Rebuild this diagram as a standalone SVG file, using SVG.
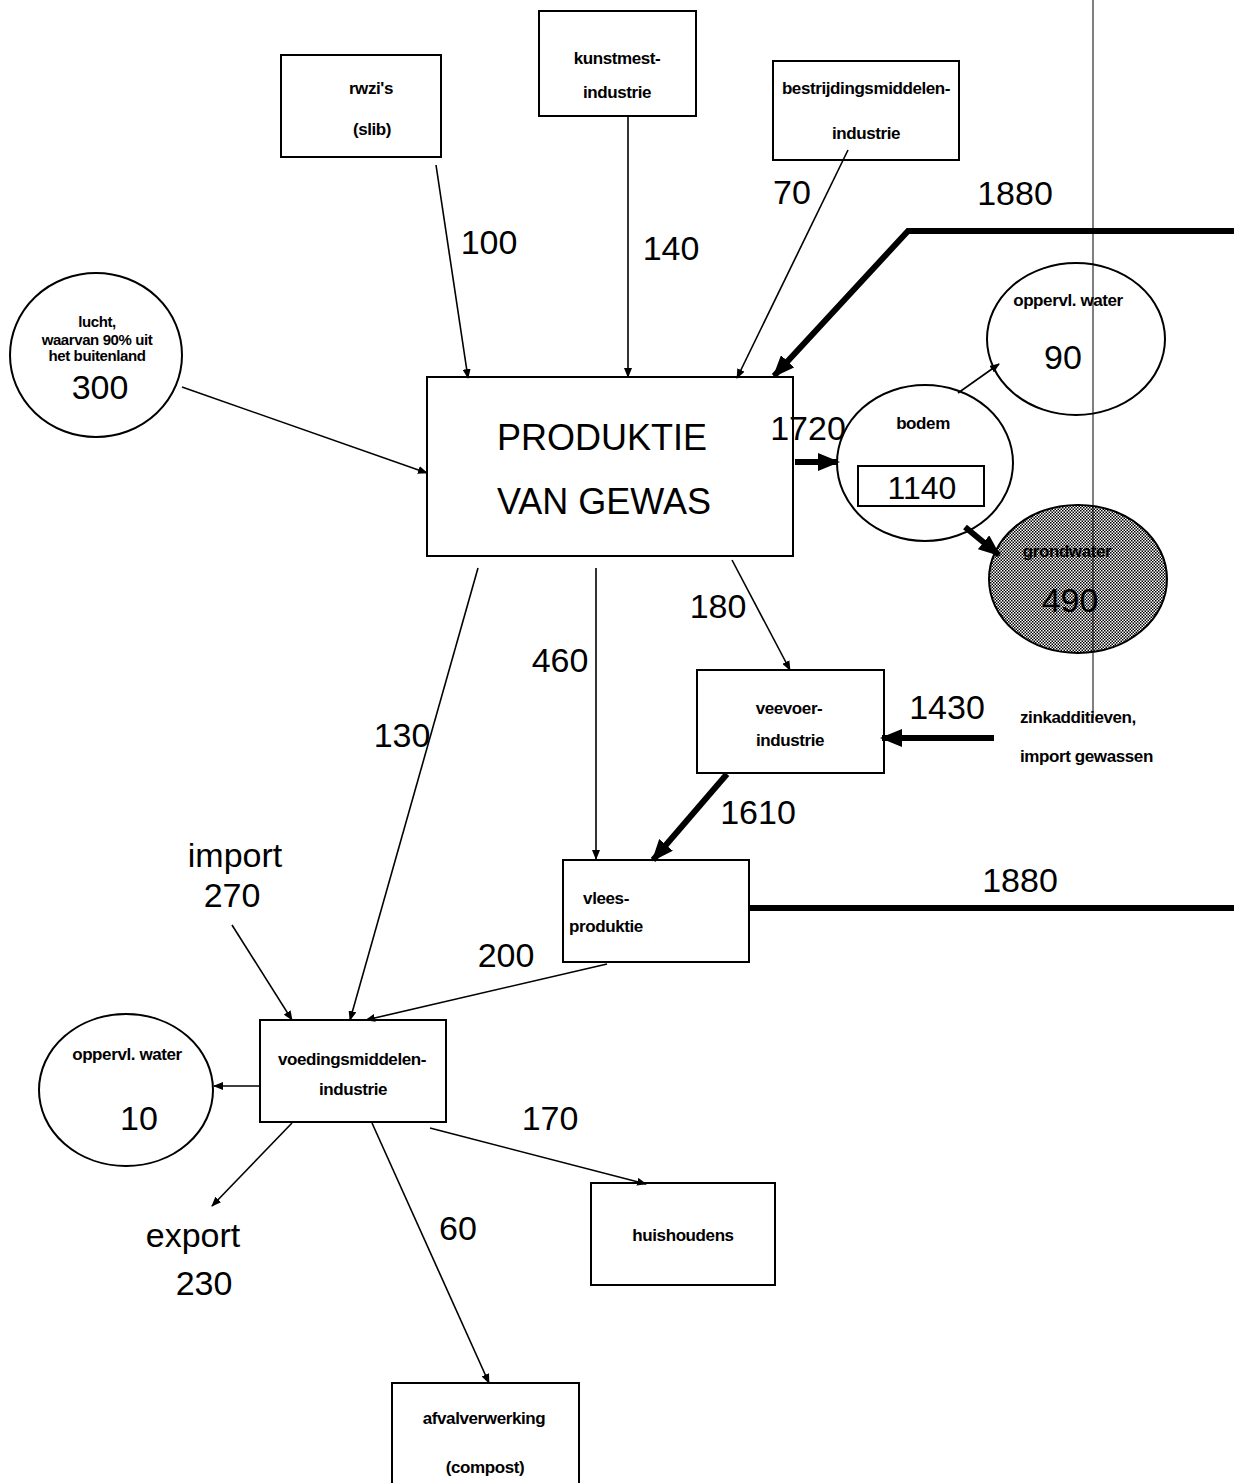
<svg xmlns="http://www.w3.org/2000/svg" width="1234" height="1483" viewBox="0 0 1234 1483">
<style>
.box{fill:#fff;stroke:#000;stroke-width:2}
.ell{fill:#fff;stroke:#000;stroke-width:2}
.sm{font-family:"Liberation Sans",Arial,sans-serif;font-size:17px;font-weight:bold;text-anchor:middle;letter-spacing:-0.4px}
.lg{font-family:"Liberation Sans",Arial,sans-serif;font-size:34px;text-anchor:middle}
.xl{font-family:"Liberation Sans",Arial,sans-serif;font-size:36px;text-anchor:middle}
.thin{fill:none;stroke:#000;stroke-width:1.6}
.thick{fill:none;stroke:#000;stroke-width:6}
</style>
<defs>
<marker id="a" markerWidth="10" markerHeight="8" refX="9" refY="4" orient="auto" markerUnits="userSpaceOnUse">
<path d="M0,0 L10,4 L0,8 Z" fill="#000"/>
</marker>
<marker id="A" markerWidth="22" markerHeight="18" refX="20" refY="9" orient="auto" markerUnits="userSpaceOnUse">
<path d="M0,0 L22,9 L0,18 Z" fill="#000"/>
</marker>
<pattern id="dots" width="3" height="3" patternUnits="userSpaceOnUse">
<rect width="3" height="3" fill="#fff"/>
<rect x="0" y="0" width="1.5" height="1.5" fill="#000"/>
<rect x="1.5" y="1.5" width="1.5" height="1.5" fill="#000"/>
</pattern>
</defs>

<g id="rwzi">
<rect class="box" x="281" y="55" width="160" height="102"/>
<text class="sm" x="371" y="94">rwzi's</text>
<text class="sm" x="372" y="135">(slib)</text>
</g>
<g id="kunstmest">
<rect class="box" x="539" y="11" width="157" height="105"/>
<text class="sm" x="617" y="64">kunstmest-</text>
<text class="sm" x="617" y="98">industrie</text>
</g>
<g id="bestrijdingsmiddelen">
<rect class="box" x="773" y="61" width="186" height="99"/>
<text class="sm" x="866" y="94">bestrijdingsmiddelen-</text>
<text class="sm" x="866" y="139">industrie</text>
</g>
<g id="lucht">
<ellipse class="ell" cx="96" cy="355" rx="86" ry="82"/>
<text class="sm" x="97" y="327" style="font-size:15px">lucht,</text>
<text class="sm" x="97" y="345" style="font-size:15px">waarvan 90% uit</text>
<text class="sm" x="97" y="361" style="font-size:15px">het buitenland</text>
<text class="lg" x="100" y="399">300</text>
</g>
<g id="produktie">
<rect class="box" x="427" y="377" width="366" height="179"/>
<text class="xl" x="602" y="450">PRODUKTIE</text>
<text class="xl" x="604" y="514">VAN GEWAS</text>
</g>
<g id="bodem">
<ellipse class="ell" cx="925" cy="463" rx="88" ry="78"/>
<text class="sm" x="923" y="429">bodem</text>
<rect class="box" x="858" y="466" width="126" height="40"/>
<text class="lg" x="922" y="499" style="font-size:32px">1140</text>
</g>
<g id="oppervl-water-1">
<ellipse class="ell" cx="1076" cy="339" rx="89" ry="76"/>
<text class="sm" x="1068" y="306">oppervl. water</text>
<text class="lg" x="1063" y="369">90</text>
</g>
<g id="grondwater">
<ellipse cx="1078" cy="579" rx="89" ry="74" fill="url(#dots)" stroke="#000" stroke-width="2"/>
<text class="sm" x="1067" y="557">grondwater</text>
<text class="lg" x="1070" y="612">490</text>
</g>
<g id="veevoer">
<rect class="box" x="697" y="670" width="187" height="103"/>
<text class="sm" x="789" y="714">veevoer-</text>
<text class="sm" x="790" y="746">industrie</text>
</g>
<g id="vlees">
<rect class="box" x="563" y="860" width="186" height="102"/>
<text class="sm" x="606" y="904">vlees-</text>
<text class="sm" x="606" y="932">produktie</text>
</g>
<g id="voedingsmiddelen">
<rect class="box" x="260" y="1020" width="186" height="102"/>
<text class="sm" x="352" y="1065">voedingsmiddelen-</text>
<text class="sm" x="353" y="1095">industrie</text>
</g>
<g id="oppervl-water-2">
<ellipse class="ell" cx="126" cy="1090" rx="87" ry="76"/>
<text class="sm" x="127" y="1060">oppervl. water</text>
<text class="lg" x="139" y="1130">10</text>
</g>
<g id="huishoudens">
<rect class="box" x="591" y="1183" width="184" height="102"/>
<text class="sm" x="683" y="1241">huishoudens</text>
</g>
<g id="afvalverwerking">
<rect class="box" x="392" y="1383" width="187" height="110"/>
<text class="sm" x="484" y="1424">afvalverwerking</text>
<text class="sm" x="485" y="1473">(compost)</text>
</g>

<g id="connectors">
<line class="thin" x1="436" y1="165" x2="468" y2="378" marker-end="url(#a)"/>
<line class="thin" x1="628" y1="116" x2="628" y2="377" marker-end="url(#a)"/>
<line class="thin" x1="848" y1="150" x2="737" y2="378" marker-end="url(#a)"/>
<polyline class="thick" points="1234,231 908,231 774,376" marker-end="url(#A)"/>
<line class="thin" x1="182" y1="387" x2="427" y2="473" marker-end="url(#a)"/>
<line class="thick" x1="795" y1="462" x2="838" y2="462" marker-end="url(#A)"/>
<line class="thin" x1="958" y1="393" x2="999" y2="364" marker-end="url(#a)"/>
<line class="thick" x1="965" y1="527" x2="999" y2="555" marker-end="url(#A)"/>
<line class="thin" x1="732" y1="560" x2="790" y2="670" marker-end="url(#a)"/>
<line class="thin" x1="596" y1="568" x2="596" y2="859" marker-end="url(#a)"/>
<line class="thin" x1="478" y1="568" x2="350" y2="1020" marker-end="url(#a)"/>
<line class="thick" x1="727" y1="774" x2="653" y2="860" marker-end="url(#A)"/>
<line class="thick" x1="994" y1="738" x2="882" y2="738" marker-end="url(#A)"/>
<line class="thick" x1="749" y1="908" x2="1234" y2="908"/>
<line class="thin" x1="607" y1="964" x2="366" y2="1020" marker-end="url(#a)"/>
<line class="thin" x1="232" y1="925" x2="292" y2="1020" marker-end="url(#a)"/>
<line class="thin" x1="260" y1="1086" x2="214" y2="1086" marker-end="url(#a)"/>
<line class="thin" x1="292" y1="1123" x2="212" y2="1206" marker-end="url(#a)"/>
<line class="thin" x1="372" y1="1123" x2="489" y2="1383" marker-end="url(#a)"/>
<line class="thin" x1="430" y1="1128" x2="646" y2="1184" marker-end="url(#a)"/>
</g>

<g id="labels">
<text class="lg" x="489" y="254">100</text>
<text class="lg" x="671" y="260">140</text>
<text class="lg" x="792" y="204">70</text>
<text class="lg" x="1015" y="205">1880</text>
<text class="lg" x="808" y="440">1720</text>
<text class="lg" x="718" y="618">180</text>
<text class="lg" x="560" y="672">460</text>
<text class="lg" x="402" y="747">130</text>
<text class="lg" x="947" y="719">1430</text>
<text class="lg" x="758" y="824">1610</text>
<text class="lg" x="1020" y="892">1880</text>
<text class="lg" x="506" y="967">200</text>
<text class="lg" x="550" y="1130">170</text>
<text class="lg" x="458" y="1240">60</text>
<text class="lg" x="235" y="867">import</text>
<text class="lg" x="232" y="907">270</text>
<text class="lg" x="193" y="1247">export</text>
<text class="lg" x="204" y="1295">230</text>
<text class="sm" x="1020" y="723" style="text-anchor:start">zinkadditieven,</text>
<text class="sm" x="1020" y="762" style="text-anchor:start">import gewassen</text>
</g>

<line x1="1093" y1="0" x2="1093" y2="718" stroke="#000" stroke-width="1"/>
</svg>
